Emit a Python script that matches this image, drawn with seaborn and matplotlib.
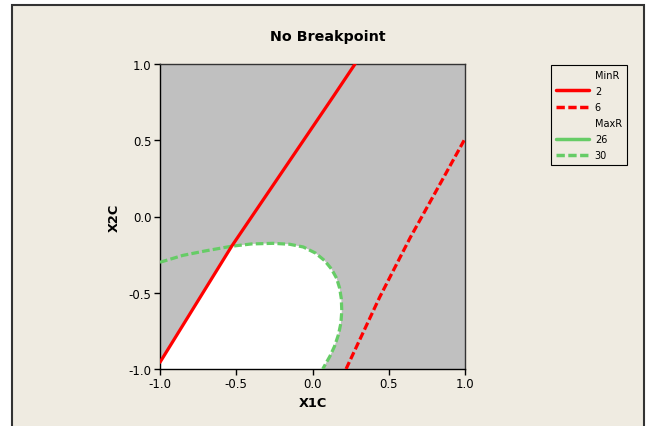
#!/usr/bin/env python3
"""
Overlaid contour plot (MinR / MaxR) - No Breakpoint.
"""

import matplotlib
matplotlib.use("Agg")
import matplotlib.pyplot as plt
import matplotlib.patches as mpatches
from matplotlib.lines import Line2D
import seaborn as sns

# Contour data (coded units)
minr2_x = [-1.0, -0.53, 0.137, 0.279]
minr2_y = [-0.956, -0.195, 0.788, 1.0]

minr6_x = [0.22, 0.44, 0.64, 0.84, 1.0]
minr6_y = [-1.0, -0.53, -0.14, 0.22, 0.51]

maxr30_x = [-1.0, -0.85, -0.70, -0.53, -0.40, -0.26, -0.15, -0.06, 0.02, 0.08, 0.125,
            0.158, 0.178, 0.189, 0.192, 0.186, 0.170, 0.145, 0.115, 0.067]
maxr30_y = [-0.30, -0.255, -0.225, -0.195, -0.180, -0.176, -0.182, -0.200, -0.240, -0.290, -0.345,
            -0.405, -0.470, -0.540, -0.620, -0.700, -0.775, -0.850, -0.915, -1.0]

ticks = [-1.0, -0.5, 0.0, 0.5, 1.0]
tick_labels = ['-1.0', '-0.5', '0.0', '0.5', '1.0']

BEIGE = '#EFEBE1'
GRAY = '#C0C0C0'
RED = '#FF0000'
GREEN = '#66CC66'

sns.set_style("white")
plt.rcParams['font.family'] = ['DejaVu Sans']
plt.rcParams['text.color'] = 'black'
plt.rcParams['axes.labelcolor'] = 'black'
plt.rcParams['xtick.color'] = 'black'
plt.rcParams['ytick.color'] = 'black'

fig = plt.figure(figsize=(6.47, 4.27), dpi=100, facecolor='white')

# beige panel with dark border (bottom edge runs off the image)
panel = mpatches.Rectangle((12 / 647, -0.1), 632 / 647, (421 / 427) + 0.1,
                           transform=fig.transFigure, facecolor=BEIGE,
                           edgecolor='#333333', linewidth=1.5, zorder=-10)
fig.patches.append(panel)

ax = fig.add_axes([160 / 647, 1 - 370 / 427, 305 / 647, 305 / 427])
ax.set_zorder(1)
ax.set_facecolor(GRAY)

# feasible (white) region: right of MinR=2 line, inside MaxR=30 curve
reg_x = [x for x in minr2_x if x <= -0.53] + [x for x in maxr30_x if x > -0.53] + [-1.0]
reg_y = [y for x, y in zip(minr2_x, minr2_y) if x <= -0.53] + \
        [y for x, y in zip(maxr30_x, maxr30_y) if x > -0.53] + [-1.0]
ax.fill(reg_x, reg_y, color='white', zorder=1, linewidth=0)

dash = (0, (2.4, 1.0))
sns.lineplot(x=maxr30_x, y=maxr30_y, sort=False, color=GREEN, linewidth=2.3,
             linestyle=dash, ax=ax, zorder=3)
sns.lineplot(x=minr2_x, y=minr2_y, sort=False, color=RED, linewidth=2.3, ax=ax, zorder=4)
sns.lineplot(x=minr6_x, y=minr6_y, sort=False, color=RED, linewidth=2.3,
             linestyle=dash, ax=ax, zorder=4)

ax.set_xlim(-1, 1)
ax.set_ylim(-1, 1)
ax.set_xticks(ticks)
ax.set_xticklabels(tick_labels)
ax.set_yticks(ticks)
ax.set_yticklabels(tick_labels)
ax.tick_params(axis='both', direction='out', length=4, width=1, color='black',
               labelsize=8.5, pad=2, bottom=True, left=True)
for s in ax.spines.values():
    s.set_color('#333333')
    s.set_linewidth(1.0)
ax.spines['left'].set_color('black')
ax.spines['bottom'].set_color('black')

ax.set_xlabel('X1C', fontsize=9.3, fontweight='bold', labelpad=4)
ax.set_ylabel('X2C', fontsize=9.3, fontweight='bold', labelpad=6)

fig.text(328 / 647, 1 - 37 / 427, 'No Breakpoint', ha='center', va='center',
         fontsize=10.3, fontweight='bold')

# legend with group headers
handles = [
    Line2D([], [], color='none', label='MinR'),
    Line2D([], [], color=RED, linewidth=2.5, label='2'),
    Line2D([], [], color=RED, linewidth=2.5, linestyle=dash, label='6'),
    Line2D([], [], color='none', label='MaxR'),
    Line2D([], [], color=GREEN, linewidth=2.5, label='26'),
    Line2D([], [], color=GREEN, linewidth=2.5, linestyle=dash, label='30'),
]
leg = fig.legend(handles=handles, loc='upper left',
                 bbox_to_anchor=(551 / 647, 1 - 66 / 427),
                 bbox_transform=fig.transFigure, borderaxespad=0,
                 fontsize=7, handlelength=3.4, handletextpad=0.6,
                 labelspacing=0.62, borderpad=0.5, fancybox=False,
                 framealpha=1, facecolor=BEIGE, edgecolor='black')
leg.get_frame().set_linewidth(0.8)

fig.savefig('out.png', dpi=100, facecolor='white')
